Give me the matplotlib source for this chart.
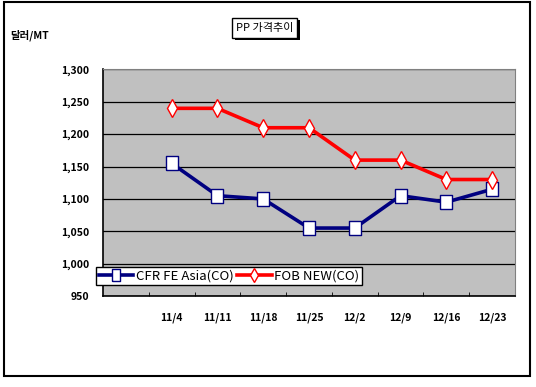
import numpy as np
import matplotlib
matplotlib.use("Agg")
import matplotlib.pyplot as plt
from matplotlib.patches import Rectangle

plt.rcParams['font.family'] = ['Noto Sans CJK KR', 'DejaVu Sans']

# data
weeks = ['', '11/4', '11/11', '11/18', '11/25', '12/2', '12/9', '12/16', '12/23']
cfr_asia = [np.nan, 1155, 1105, 1100, 1055, 1055, 1105, 1095, 1115]
fob_new = [np.nan, 1240, 1240, 1210, 1210, 1160, 1160, 1130, 1130]
y_ticks = [950, 1000, 1050, 1100, 1150, 1200, 1250, 1300]

W, H = 536, 387
fig = plt.figure(figsize=(W / 100, H / 100), dpi=100)

# outer frame
fig.patches.append(Rectangle((4 / W, 1 - 376 / H), 526 / W, 374 / H,
                             transform=fig.transFigure, fill=False,
                             edgecolor='black', linewidth=1.5))

ax = fig.add_axes([103 / W, 1 - 296 / H, 412 / W, 226.5 / H])
ax.set_facecolor('#c0c0c0')
x = np.arange(len(weeks))

# tall rectangle marker like the original
box = [(-0.4, -0.5), (0.4, -0.5), (0.4, 0.5), (-0.4, 0.5), (-0.4, -0.5)]

ax.plot(x, cfr_asia, color='#000080', linewidth=2.6, marker=box,
        markersize=10, markerfacecolor='white', markeredgecolor='#000080',
        markeredgewidth=1.0, label='CFR FE Asia(CO)', zorder=3)
ax.plot(x, fob_new, color='#ff0000', linewidth=2.6, marker='d',
        markersize=9, markerfacecolor='white', markeredgecolor='#ff0000',
        markeredgewidth=1.0, label='FOB NEW(CO)', zorder=3)

ax.set_xlim(-0.5, len(weeks) - 0.5)
ax.set_ylim(950, 1300)
ax.set_yticks(y_ticks)
ax.set_yticklabels([f'{v:,}' for v in y_ticks], fontsize=7.5, fontweight='bold')
ax.yaxis.grid(True, color='black', linewidth=0.9)
ax.set_axisbelow(True)
ax.tick_params(axis='y', length=0, pad=10)

ax.set_xticks(x)
ax.set_xticklabels(weeks, fontsize=7.5, fontweight='bold')
ax.tick_params(axis='x', length=0, pad=12)
ax.set_xticks(np.arange(0.5, len(weeks) - 0.5), minor=True)
ax.tick_params(axis='x', which='minor', direction='in', length=3, color='black')

for side in ['top', 'right']:
    ax.spines[side].set_color('#808080')
for side in ['left', 'bottom']:
    ax.spines[side].set_color('black')
    ax.spines[side].set_linewidth(1.2)

leg = fig.legend(loc='upper left', bbox_to_anchor=(96 / W, 1 - 267 / H),
                 ncol=2, fontsize=9.5, frameon=True, fancybox=False,
                 edgecolor='black', framealpha=1, borderpad=0.2,
                 handlelength=2.6, handletextpad=0.2, columnspacing=0.3,
                 borderaxespad=0, markerscale=0.8)
leg.get_frame().set_linewidth(1.0)

# title box with drop shadow
fig.patches.append(Rectangle((235 / W, 1 - 40 / H), 65 / W, 20 / H,
                             transform=fig.transFigure, facecolor='black',
                             edgecolor='black', linewidth=0))
fig.patches.append(Rectangle((232 / W, 1 - 38 / H), 65 / W, 20 / H,
                             transform=fig.transFigure, facecolor='white',
                             edgecolor='black', linewidth=1.0))
fig.text(264.5 / W, 1 - 28 / H, 'PP 가격추이', ha='center', va='center',
         fontsize=8)

fig.text(10 / W, 1 - 35 / H, '달러/MT', ha='left', va='center',
         fontsize=7.5, fontweight='bold')

fig.savefig('out.png', dpi=100)
